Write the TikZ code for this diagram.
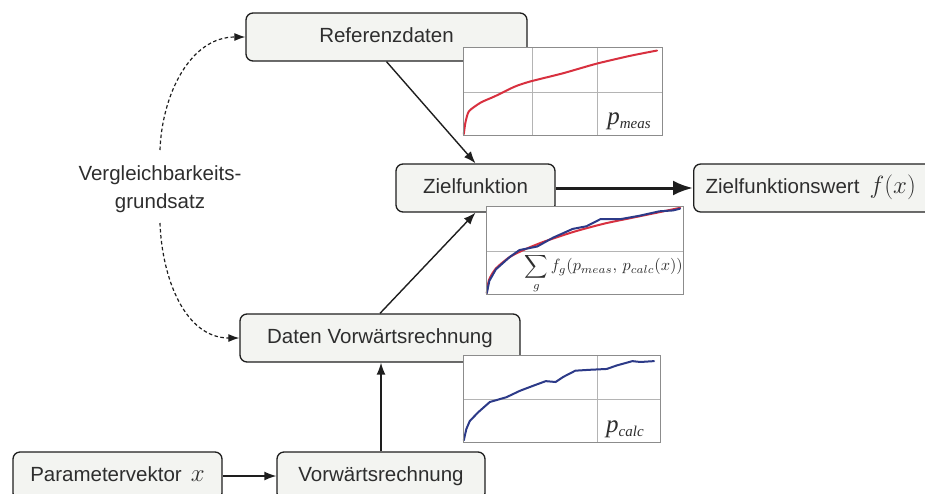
\documentclass[tikz,border=0pt]{standalone}
\usepackage{fontspec}
\setmainfont{Liberation Sans}
\newfontfamily\tnr{Liberation Serif}
\usepackage{graphicx}
\usetikzlibrary{arrows.meta}
\definecolor{txt}{HTML}{2E2E2E}
\definecolor{ln}{HTML}{1E1E1E}
\definecolor{measred}{HTML}{D8303F}
\definecolor{calcblue}{HTML}{2C3A88}
\definecolor{boxfill}{HTML}{F3F4F1}
\definecolor{framec}{HTML}{8C8C8C}
\definecolor{gridc}{HTML}{B4B4B4}
\tikzset{
 box/.style={draw=ln, line width=1.3pt, rounded corners=7pt, fill=boxfill,
   inner sep=0pt, minimum height=48pt, text height=16pt, text depth=6pt,
   font=\fontsize{20.5}{24}\selectfont, text=txt},
 arr/.style={draw=ln, line width=1.4pt, -{Latex[length=12pt,width=9pt]}},
 bigarr/.style={draw=ln, line width=3pt, -{Latex[length=20pt,width=15pt]}},
 dasharr/.style={draw=ln, line width=1.2pt, dash pattern=on 3.5pt off 2.5pt, -{Latex[length=11pt,width=8pt]}},
 plotframe/.style={draw=framec, line width=0.9pt, fill=white, inner sep=0pt, anchor=north west},
 gridline/.style={draw=gridc, line width=0.7pt},
 meascurve/.style={draw=measred, line width=2pt, line join=round, line cap=round},
 calccurve/.style={draw=calcblue, line width=2pt, line join=round, line cap=round},
 plotlabel/.style={anchor=base east, inner sep=0pt, text=txt},
}
\newcommand{\plabel}[1]{{\tnr\itshape\fontsize{25}{25}\selectfont p\fontsize{15}{15}\selectfont\raisebox{-3.5pt}{#1}}}
\begin{document}
\begin{tikzpicture}[x=1pt,y=-1pt]
\useasboundingbox (0,0) rectangle (925,493);
% boxes
\node[box, minimum width=281pt] (ref) at (386.5,37) {Referenzdaten};
\node[box, minimum width=159pt] (ziel) at (475.5,188) {Zielfunktion};
\node[box, anchor=west, text width=232pt, align=left, inner xsep=12pt] (zw) at (693,188)
  {Zielfunktionswert\, {\fontsize{27}{27}\selectfont$f(x)$}};
\node[box, minimum width=280pt] (daten) at (380,338) {Daten Vorwärtsrechnung};
\node[box, minimum width=209pt] (param) at (117.5,476) {Parametervektor\, {\fontsize{24}{24}\selectfont$x$}};
\node[box, minimum width=208pt] (vorw) at (381,476) {Vorwärtsrechnung};
% comparability label
\node[text=txt, font=\fontsize{20.5}{28}\selectfont, align=center, inner sep=0pt] (vg) at (160,189)
  {Vergleichbarkeits-\\grundsatz};
\coordinate (vgtop) at (160,150);
\coordinate (vgbot) at (160,223);
\draw[dasharr] (vgtop) to[out=88,in=180] (ref.west);
\draw[dasharr] (vgbot) to[out=-88,in=180] (daten.west);
% connectors
\draw[arr] (ref.south) -- (ziel.north);
\draw[arr] (daten.north) -- (ziel.south);
\draw[arr] (vorw.north) -- (vorw.north |- daten.south);
\draw[arr] (param.east) -- (vorw.west);
\draw[bigarr] (ziel.east) -- (zw.west);
% plot p_meas
\node[plotframe, minimum width=199pt, minimum height=88pt] (pm) at (463,47) {};
\begin{scope}[shift={(pm.south west)}, x=199pt, y=88pt]
 \draw[gridline] (0.347,0) -- (0.347,1) (0.673,0) -- (0.673,1) (0,0.5) -- (1,0.5);
 \draw[meascurve] plot[smooth, tension=0.4] coordinates {(0.004,0.02) (0.012,0.15) (0.03,0.28) (0.09,0.38) (0.16,0.45) (0.26,0.56) (0.34,0.62) (0.5,0.71) (0.67,0.82) (0.84,0.91) (0.975,0.97)};
 \draw[draw=framec, line width=0.9pt] (0,0) rectangle (1,1);
\end{scope}
\node[plotlabel] (pml) at ([xshift=-12pt,yshift=11pt]pm.south east) {\plabel{meas}};
% plot objective
\node[plotframe, minimum width=197pt, minimum height=88pt] (pz) at (486,206) {};
\begin{scope}[shift={(pz.south west)}, x=197pt, y=88pt]
 \draw[gridline] (0,0.5) -- (1,0.5);
 \draw[meascurve] plot[smooth, tension=0.4] coordinates {(0.004,0.02) (0.015,0.17) (0.05,0.3) (0.12,0.43) (0.2,0.52) (0.3,0.61) (0.45,0.72) (0.6,0.81) (0.75,0.88) (0.88,0.94) (0.985,0.99)};
 \draw[calccurve] (0.004,0.02) -- (0.017,0.16) -- (0.05,0.29) -- (0.12,0.43) -- (0.17,0.51) -- (0.26,0.55) -- (0.34,0.65) -- (0.44,0.75) -- (0.51,0.78) -- (0.58,0.86) -- (0.68,0.86) -- (0.78,0.9) -- (0.88,0.95) -- (0.95,0.96) -- (0.985,0.98);
 \draw[draw=framec, line width=0.9pt] (0,0) rectangle (1,1);
\end{scope}
\node[plotlabel] (pzl) at ([xshift=-1pt,yshift=24pt]pz.south east)
  {\resizebox{158pt}{!}{$\displaystyle\sum_g f_g(p_{meas},\,p_{calc}(x))$}};
% plot p_calc
\node[plotframe, minimum width=197pt, minimum height=87pt] (pc) at (463,355) {};
\begin{scope}[shift={(pc.south west)}, x=197pt, y=87pt]
 \draw[gridline] (0.68,0) -- (0.68,1) (0,0.495) -- (1,0.495);
 \draw[calccurve] (0.004,0.03) -- (0.017,0.16) -- (0.034,0.25) -- (0.076,0.35) -- (0.136,0.47) -- (0.22,0.525) -- (0.29,0.60) -- (0.36,0.66) -- (0.42,0.71) -- (0.47,0.70) -- (0.51,0.76) -- (0.57,0.83) -- (0.64,0.84) -- (0.73,0.85) -- (0.78,0.89) -- (0.86,0.94) -- (0.90,0.93) -- (0.97,0.94);
 \draw[draw=framec, line width=0.9pt] (0,0) rectangle (1,1);
\end{scope}
\node[plotlabel] (pcl) at ([xshift=-17pt,yshift=10pt]pc.south east) {\plabel{calc}};
\end{tikzpicture}
\end{document}
